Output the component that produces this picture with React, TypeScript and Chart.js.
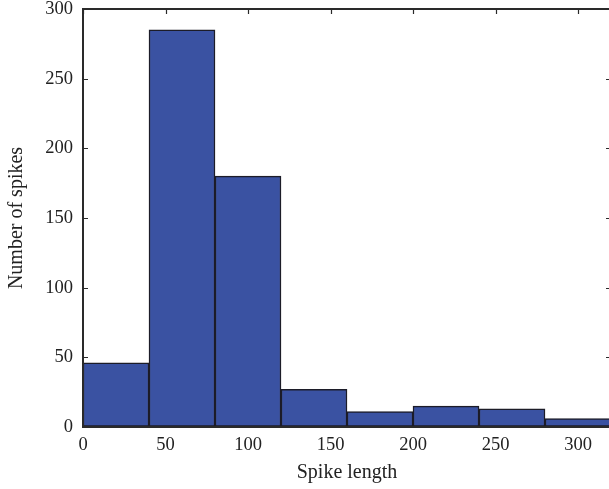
import React, { useEffect, useRef } from 'react';
import { Chart, registerables } from 'chart.js';

Chart.register(...registerables);

const binStarts = [0, 40, 80, 120, 160, 200, 240, 280];
const binWidth = 40;
const counts = [46, 285, 180, 27, 11, 15, 13, 6];
const xTicks = [0, 50, 100, 150, 200, 250, 300];
const yTicks = [0, 50, 100, 150, 200, 250, 300];
const xTitle = 'Spike length';
const yTitle = 'Number of spikes';

const FONT = "'Liberation Serif', 'Times New Roman', serif";
const AXIS = '#2a2a2a';

const framePlugin = {
  id: 'frame',
  beforeDatasetsDraw(chart: any) {
    const { ctx, chartArea, scales } = chart;
    const { left, right, top, bottom } = chartArea;
    const tl = 5;
    ctx.save();
    ctx.strokeStyle = AXIS;
    ctx.lineWidth = 1.2;
    ctx.beginPath();
    yTicks.forEach((v) => {
      const y = Math.round(scales.y.getPixelForValue(v)) + 0.5;
      ctx.moveTo(left, y);
      ctx.lineTo(left + tl, y);
      ctx.moveTo(right, y);
      ctx.lineTo(right - tl, y);
    });
    xTicks.forEach((v) => {
      const x = Math.round(scales.x.getPixelForValue(v)) + 0.5;
      ctx.moveTo(x, top);
      ctx.lineTo(x, top + tl);
      ctx.moveTo(x, bottom);
      ctx.lineTo(x, bottom - tl);
    });
    ctx.stroke();
    ctx.restore();
  },
  afterDatasetsDraw(chart: any) {
    const { ctx, chartArea } = chart;
    const { left, right, top, bottom } = chartArea;
    ctx.save();
    ctx.strokeStyle = AXIS;
    ctx.lineWidth = 2;
    ctx.beginPath();
    ctx.moveTo(left, top);
    ctx.lineTo(right, top);
    ctx.lineTo(right, bottom);
    ctx.moveTo(left, top);
    ctx.lineTo(left, bottom);
    ctx.lineTo(right, bottom);
    ctx.stroke();
    ctx.restore();
  },
};

export default function App() {
  const ref = useRef<HTMLCanvasElement>(null);
  useEffect(() => {
    if (!ref.current) return;
    const chart = new Chart(ref.current, {
      type: 'bar',
      data: {
        datasets: [
          {
            data: binStarts.map((s, i) => ({ x: s + binWidth / 2, y: counts[i] })),
            backgroundColor: '#3a52a2',
            borderColor: '#1c1c28',
            borderWidth: 1.5,
            borderSkipped: false,
            barPercentage: 1,
            categoryPercentage: 1,
          },
        ],
      },
      options: {
        responsive: false,
        animation: false,
        devicePixelRatio: 1,
        layout: { padding: { left: 0, top: 9, right: 1, bottom: 0 } },
        plugins: { legend: { display: false }, tooltip: { enabled: false } },
        scales: {
          x: {
            type: 'linear',
            offset: false,
            min: 0,
            max: 320,
            afterBuildTicks: (s: any) => {
              s.ticks = xTicks.map((v) => ({ value: v }));
            },
            afterFit: (s: any) => {
              s.height = 62;
              s.paddingLeft = 0;
              s.paddingRight = 0;
            },
            grid: { display: true, offset: false, drawOnChartArea: false, drawTicks: false },
            border: { display: true, color: AXIS, width: 2 },
            ticks: {
              padding: 7,
              maxRotation: 0,
              color: '#222',
              font: { family: FONT, size: 18.5 },
            },
            title: {
              display: true,
              text: xTitle,
              color: '#222',
              font: { family: FONT, size: 20 },
              padding: { top: 0, bottom: 4 },
            },
          },
          y: {
            type: 'linear',
            min: 0,
            max: 300,
            afterBuildTicks: (s: any) => {
              s.ticks = yTicks.map((v) => ({ value: v }));
            },
            afterFit: (s: any) => {
              s.width = 83;
              s.paddingTop = 0;
              s.paddingBottom = 0;
            },
            grid: { display: true, drawOnChartArea: false, drawTicks: false },
            border: { display: true, color: AXIS, width: 2 },
            ticks: {
              padding: 10,
              color: '#222',
              font: { family: FONT, size: 18.5 },
            },
            title: {
              display: true,
              text: yTitle,
              color: '#222',
              font: { family: FONT, size: 20 },
              padding: { top: 5, bottom: 0 },
            },
          },
        },
      },
      plugins: [framePlugin],
    });
    return () => chart.destroy();
  }, []);

  return (
    <div style={{ position: 'absolute', left: 0, top: 0, width: 609, height: 489, overflow: 'hidden', background: '#fff' }}>
      <canvas ref={ref} width={612} height={489} style={{ display: 'block' }} />
    </div>
  );
}
